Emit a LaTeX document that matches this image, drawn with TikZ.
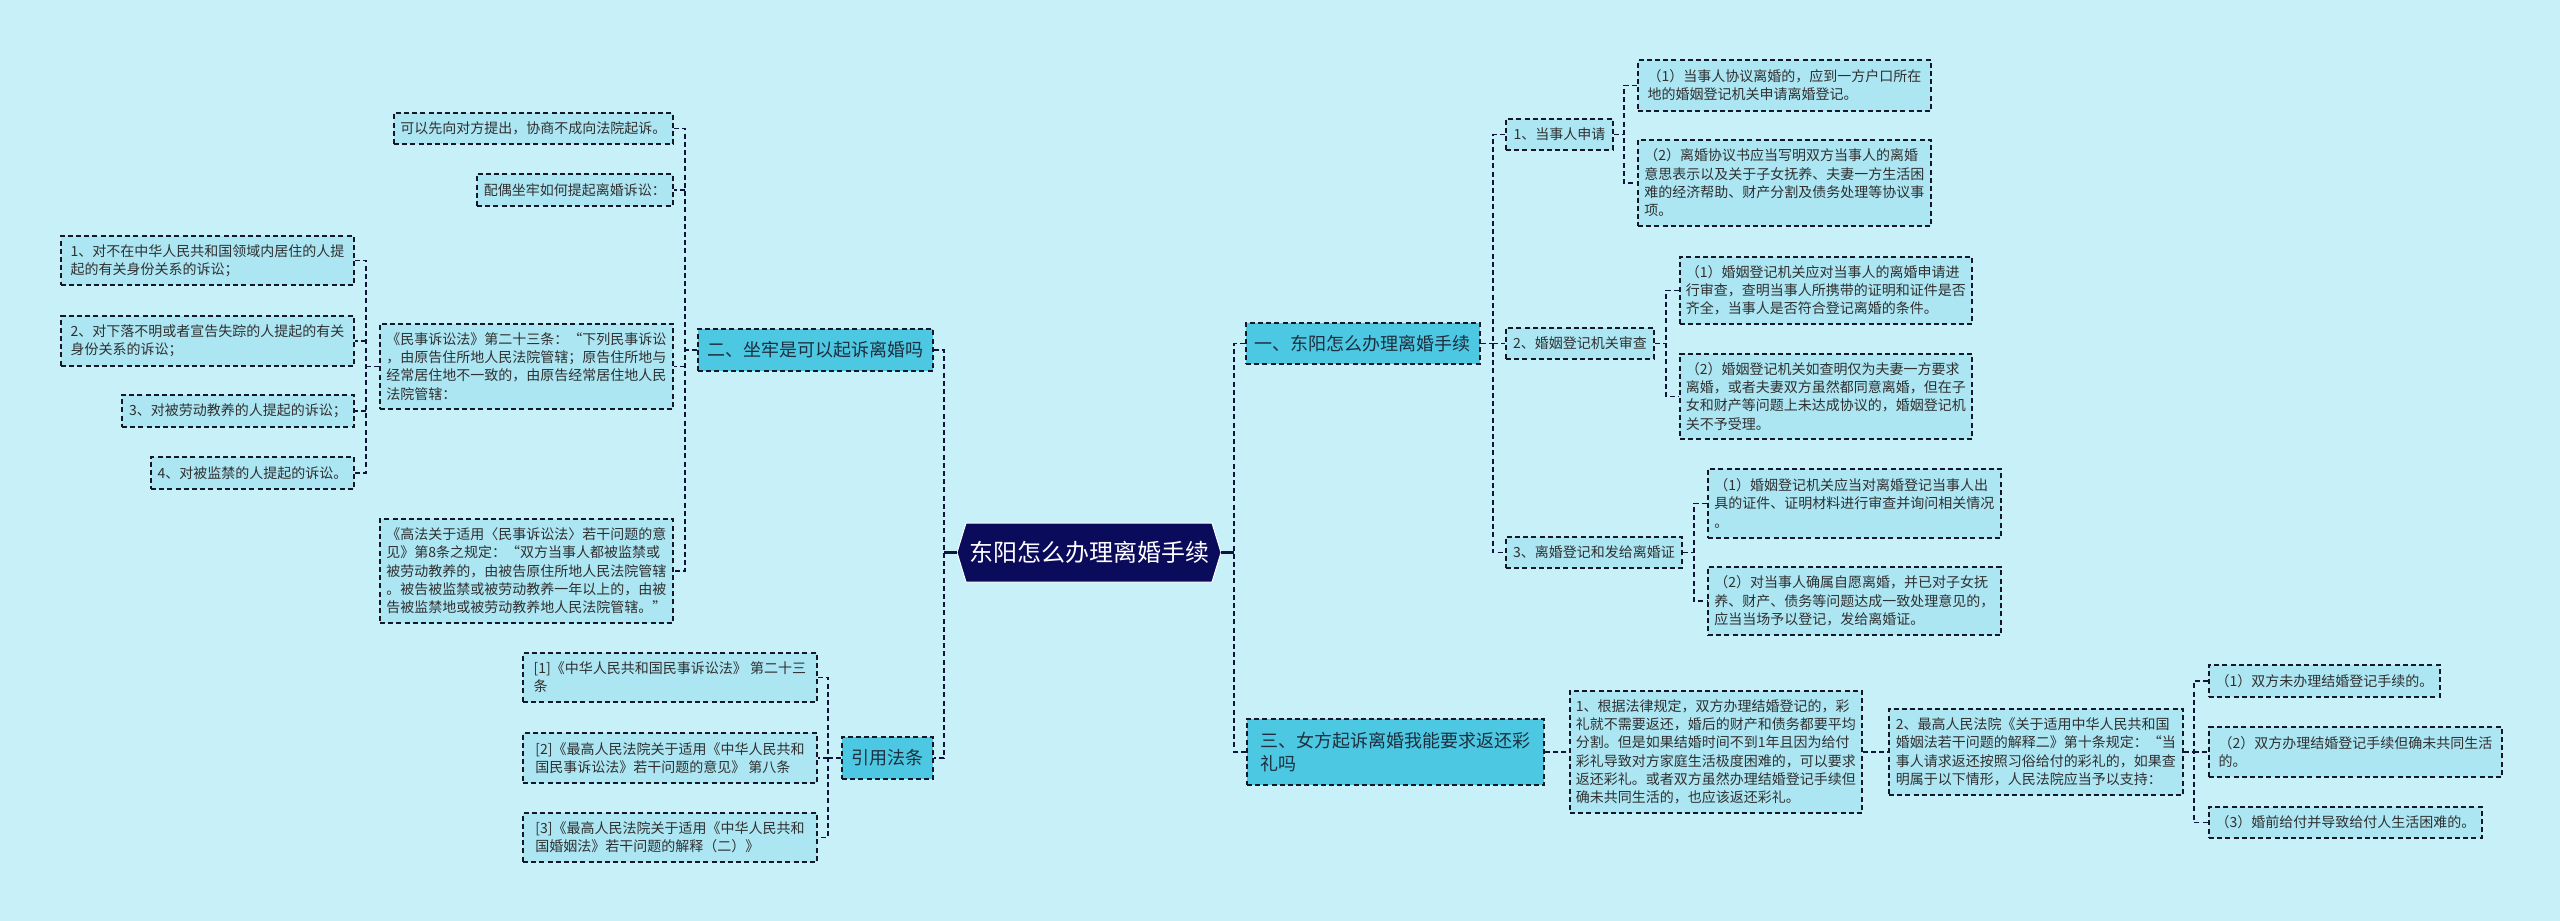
\documentclass[tikz,border=0pt]{standalone}
\usepackage{fontspec}
\setmainfont{Noto Sans CJK SC}
\definecolor{bg}{HTML}{C8F0F8}
\definecolor{leaffill}{HTML}{ACE6F3}
\definecolor{lvlfill}{HTML}{4CC8E2}
\definecolor{rootfill}{HTML}{0B0B5C}
\definecolor{bord}{HTML}{141826}
\definecolor{linec}{HTML}{10143A}
\definecolor{leaftext}{HTML}{303030}
\definecolor{lvltext}{HTML}{1E2E3E}
\begin{document}
\begin{tikzpicture}[x=1pt,y=-1pt,
  base/.style={draw=bord, line width=1.8pt, dash pattern=on 5pt off 3.2pt, anchor=north west, align=left, inner xsep=4pt, inner ysep=0pt},
  leaf/.style={base, fill=leaffill, text=leaftext, font=\fontsize{14}{18.3}\selectfont},
  lvl/.style={base, fill=lvlfill, text=lvltext, font=\fontsize{18}{23.3}\selectfont},
  conn/.style={draw=linec, line width=1.8pt, dash pattern=on 5pt off 3.2pt},
  rootln/.style={draw=linec, line width=2.4pt},
]
\fill[bg] (0,0) rectangle (2560,921);
\useasboundingbox (0,0) rectangle (2560,921);

% root
\filldraw[fill=rootfill, draw=white, line width=1pt] (966,523) -- (1212,523) -- (1221,552.5) -- (1212,582) -- (966,582) -- (957,552.5) -- cycle;
\node[inner sep=0pt, minimum width=264pt, minimum height=59pt, text=white, font=\fontsize{24}{28}\selectfont] (root) at (1089,552.5) {东阳怎么办理离婚手续};

% level 1
\node[lvl, minimum width=235pt, minimum height=42pt] (er) at (697,328) {二、坐牢是可以起诉离婚吗};
\node[lvl, minimum width=91pt, minimum height=42pt] (yy) at (841,736) {引用法条};
\node[lvl, minimum width=234pt, minimum height=41pt] (one) at (1245,322) {一、东阳怎么办理离婚手续};
\node[lvl, minimum width=297pt, minimum height=66pt] (three) at (1246,718) {三、女方起诉离婚我能要求返还彩\\礼吗};

% children of er
\node[leaf, minimum width=279pt, minimum height=31pt] (c21) at (393,112) {可以先向对方提出，协商不成向法院起诉。};
\node[leaf, minimum width=196pt, minimum height=32pt] (c22) at (476,173) {配偶坐牢如何提起离婚诉讼：};
\node[leaf, minimum width=293pt, minimum height=85pt] (c23) at (379,323) {《民事诉讼法》第二十三条：“下列民事诉讼\\，由原告住所地人民法院管辖；原告住所地与\\经常居住地不一致的，由原告经常居住地人民\\法院管辖：};
\node[leaf, minimum width=293pt, minimum height=104pt] (c24) at (379,518) {《高法关于适用〈民事诉讼法〉若干问题的意\\见》第8条之规定：“双方当事人都被监禁或\\被劳动教养的，由被告原住所地人民法院管辖\\。被告被监禁或被劳动教养一年以上的，由被\\告被监禁地或被劳动教养地人民法院管辖。”};

% children of c23
\node[leaf, minimum width=293pt, minimum height=49pt] (c231) at (60,235) {1、对不在中华人民共和国领域内居住的人提\\起的有关身份关系的诉讼；};
\node[leaf, minimum width=293pt, minimum height=50pt] (c232) at (60,315) {2、对下落不明或者宣告失踪的人提起的有关\\身份关系的诉讼；};
\node[leaf, minimum width=232pt, minimum height=32pt] (c233) at (121,394) {3、对被劳动教养的人提起的诉讼；};
\node[leaf, minimum width=203pt, minimum height=32pt] (c234) at (150,456) {4、对被监禁的人提起的诉讼。};

% children of yy
\node[leaf, minimum width=294pt, minimum height=49pt] (r1) at (522,652) {[1]《中华人民共和国民事诉讼法》 第二十三\\条};
\node[leaf, minimum width=294pt, minimum height=50pt] (r2) at (522,732) {[2]《最高人民法院关于适用《中华人民共和\\国民事诉讼法》若干问题的意见》 第八条};
\node[leaf, minimum width=294pt, minimum height=49pt] (r3) at (522,812) {[3]《最高人民法院关于适用《中华人民共和\\国婚姻法》若干问题的解释（二）》};

% children of one
\node[leaf, minimum width=107pt, minimum height=31pt] (a1) at (1505,118) {1、当事人申请};
\node[leaf, minimum width=148pt, minimum height=31pt] (a2) at (1505,327) {2、婚姻登记机关审查};
\node[leaf, minimum width=176pt, minimum height=31pt] (a3) at (1505,536) {3、离婚登记和发给离婚证};

\node[leaf, minimum width=293pt, minimum height=51pt] (a11) at (1637,59) {（1）当事人协议离婚的，应到一方户口所在\\地的婚姻登记机关申请离婚登记。};
\node[leaf, minimum width=293pt, minimum height=86pt] (a12) at (1637,139) {（2）离婚协议书应当写明双方当事人的离婚\\意思表示以及关于子女抚养、夫妻一方生活困\\难的经济帮助、财产分割及债务处理等协议事\\项。};
\node[leaf, minimum width=292pt, minimum height=67pt] (a21) at (1679,256) {（1）婚姻登记机关应对当事人的离婚申请进\\行审查，查明当事人所携带的证明和证件是否\\齐全，当事人是否符合登记离婚的条件。};
\node[leaf, minimum width=292pt, minimum height=85pt] (a22) at (1679,353) {（2）婚姻登记机关如查明仅为夫妻一方要求\\离婚，或者夫妻双方虽然都同意离婚，但在子\\女和财产等问题上未达成协议的，婚姻登记机\\关不予受理。};
\node[leaf, minimum width=293pt, minimum height=69pt] (a31) at (1707,468) {（1）婚姻登记机关应当对离婚登记当事人出\\具的证件、证明材料进行审查并询问相关情况\\。};
\node[leaf, minimum width=293pt, minimum height=68pt] (a32) at (1707,566) {（2）对当事人确属自愿离婚，并已对子女抚\\养、财产、债务等问题达成一致处理意见的，\\应当当场予以登记，发给离婚证。};

% children of three
\node[leaf, minimum width=292pt, minimum height=122pt] (b1) at (1569,690) {1、根据法律规定，双方办理结婚登记的，彩\\礼就不需要返还，婚后的财产和债务都要平均\\分割。但是如果结婚时间不到1年且因为给付\\彩礼导致对方家庭生活极度困难的，可以要求\\返还彩礼。或者双方虽然办理结婚登记手续但\\确未共同生活的，也应该返还彩礼。};
\node[leaf, minimum width=294pt, minimum height=86pt] (b2) at (1888,708) {2、最高人民法院《关于适用中华人民共和国\\婚姻法若干问题的解释二》第十条规定：“当\\事人请求返还按照习俗给付的彩礼的，如果查\\明属于以下情形，人民法院应当予以支持：};
\node[leaf, minimum width=231pt, minimum height=32pt] (b21) at (2208,664) {（1）双方未办理结婚登记手续的。};
\node[leaf, minimum width=293pt, minimum height=50pt] (b22) at (2208,726) {（2）双方办理结婚登记手续但确未共同生活\\的。};
\node[leaf, minimum width=273pt, minimum height=31pt] (b23) at (2208,806) {（3）婚前给付并导致给付人生活困难的。};

% trunk coordinates
\coordinate (tR) at (1234,0);
\coordinate (tL) at (944,0);
\coordinate (tE) at (685,0);
\coordinate (tC) at (366,0);
\coordinate (tY) at (828,0);
\coordinate (tO) at (1493,0);
\coordinate (tA1) at (1624,0);
\coordinate (tA2) at (1666,0);
\coordinate (tA3) at (1694,0);
\coordinate (tB) at (2194,0);

% root connectors
\draw[rootln] (root.east) -- (root.east -| tR);
\draw[rootln] (root.west) -- (root.west -| tL);
\draw[conn] (one.west) -- (one.west -| tR) -- (three.west -| tR) -- (three.west);
\draw[conn] (er.east) -- (er.east -| tL) -- (yy.east -| tL) -- (yy.east);

% er group
\draw[conn] (er.west) -- (er.west -| tE);
\draw[conn] (c21.east) -- (c21.east -| tE) -- (c24.east -| tE) -- (c24.east);
\draw[conn] (c22.east -| tE) -- (c22.east);
\draw[conn] (c23.east -| tE) -- (c23.east);

% c23 group
\draw[conn] (c23.west) -- (c23.west -| tC);
\draw[conn] (c231.east) -- (c231.east -| tC) -- (c234.east -| tC) -- (c234.east);
\draw[conn] (c232.east -| tC) -- (c232.east);
\draw[conn] (c233.east -| tC) -- (c233.east);

% yy group
\draw[conn] (yy.west) -- (yy.west -| tY);
\draw[conn] (r1.east) -- (r1.east -| tY) -- (r3.east -| tY) -- (r3.east);
\draw[conn] (r2.east -| tY) -- (r2.east);

% one group
\draw[conn] (one.east) -- (one.east -| tO);
\draw[conn] (a1.west) -- (a1.west -| tO) -- (a3.west -| tO) -- (a3.west);
\draw[conn] (a2.west -| tO) -- (a2.west);

\draw[conn] (a1.east) -- (a1.east -| tA1);
\draw[conn] (a11.west) -- (a11.west -| tA1) -- (a12.west -| tA1) -- (a12.west);
\draw[conn] (a2.east) -- (a2.east -| tA2);
\draw[conn] (a21.west) -- (a21.west -| tA2) -- (a22.west -| tA2) -- (a22.west);
\draw[conn] (a3.east) -- (a3.east -| tA3);
\draw[conn] (a31.west) -- (a31.west -| tA3) -- (a32.west -| tA3) -- (a32.west);

% three group
\draw[conn] (three.east) -- (b1.west);
\draw[conn] (b1.east) -- (b2.west);
\draw[conn] (b2.east) -- (b2.east -| tB);
\draw[conn] (b21.west) -- (b21.west -| tB) -- (b23.west -| tB) -- (b23.west);
\draw[conn] (b22.west -| tB) -- (b22.west);
\end{tikzpicture}
\end{document}
